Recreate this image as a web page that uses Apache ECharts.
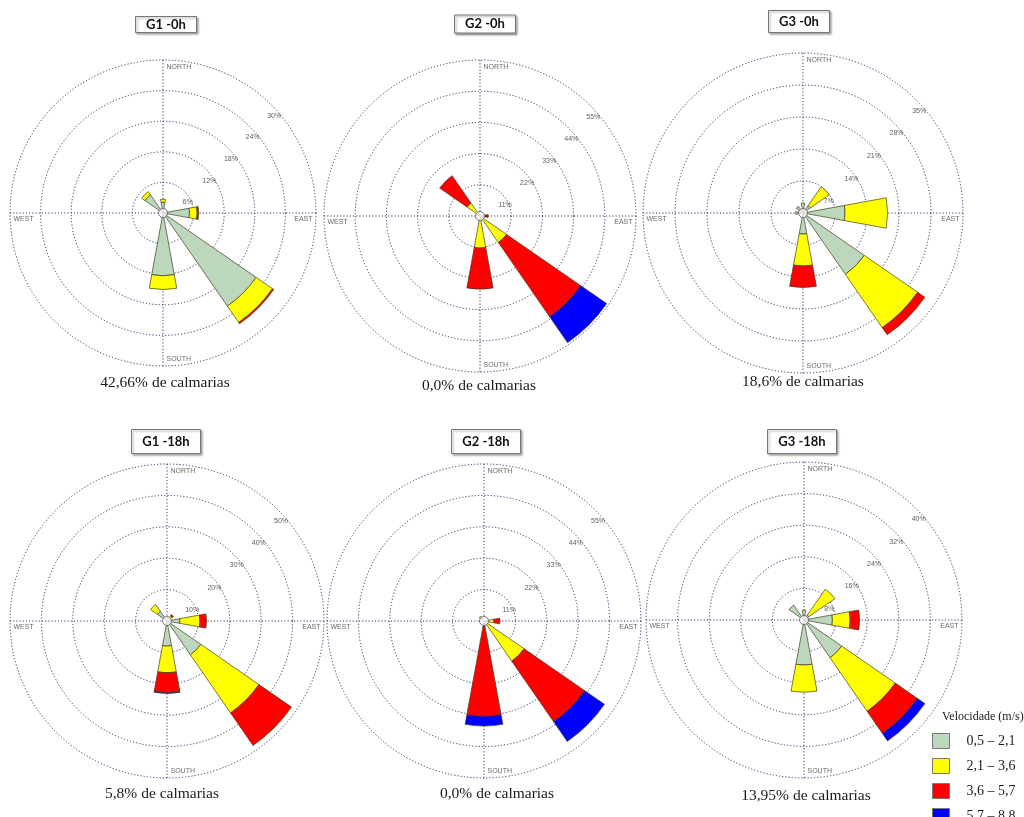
<!DOCTYPE html>
<html><head><meta charset="utf-8">
<script src="https://cdn.jsdelivr.net/npm/echarts@6/dist/echarts.min.js"></script>
<style>html,body{margin:0;padding:0;background:#fff}#c{width:1024px;height:817px}</style>
</head><body><div id="c"></div>
<script>
// ---------- DATA ----------
const directions = ['N', 'NE', 'E', 'SE', 'S', 'SW', 'W', 'NW'];
const quadrants = ['NE', 'SE', 'SW', 'NW'];
const speedClasses = ['0,5 – 2,1', '2,1 – 3,6', '3,6 – 5,7', '5,7 – 8,8'];
const legendTitle = 'Velocidade (m/s)';
const panelTitles = ['G1 -0h', 'G2 -0h', 'G3 -0h', 'G1 -18h', 'G2 -18h', 'G3 -18h'];
const calmCaptions = ['42,66% de calmarias', '0,0% de calmarias', '18,6% de calmarias',
                      '5,8% de calmarias', '0,0% de calmarias', '13,95% de calmarias'];
const compassNames = ['NORTH', 'EAST', 'SOUTH', 'WEST'];
const compassDirs = ['N', 'E', 'S', 'W'];
const ringTicks = [
  [6, 12, 18, 24, 30],
  [11, 22, 33, 44, 55],
  [7, 14, 21, 28, 35],
  [10, 20, 30, 40, 50],
  [11, 22, 33, 44, 55],
  [8, 16, 24, 32, 40]
];

// frequencies (%) per direction N, NE, E, SE, S, SW, W, NW
const g1_0h_c1 = [2.1, 0, 5.2, 22.2, 12.3, 0, 0, 4.3];
const g1_0h_c2 = [0.6, 0, 1.5, 3.9, 2.7, 0, 0, 0.8];
const g1_0h_c3 = [0, 0, 0.3, 0.3, 0, 0, 0, 0];
const g1_0h_c4 = [0, 0, 0, 0, 0, 0, 0, 0];

const g2_0h_c1 = [0, 0, 0, 0, 0, 0, 0, 0];
const g2_0h_c2 = [0, 0, 2.0, 11.4, 11.3, 0, 0, 5.6];
const g2_0h_c3 = [0, 0, 0.9, 31.8, 14.5, 0, 0, 11.7];
const g2_0h_c4 = [0, 0, 0, 11.1, 0, 0, 0, 0];

const g3_0h_c1 = [2.2, 2.0, 9.2, 16.3, 4.6, 0, 1.6, 1.8];
const g3_0h_c2 = [0, 5.0, 9.3, 14.2, 7.0, 0, 0, 0];
const g3_0h_c3 = [0, 0, 0, 1.9, 4.7, 0, 0, 0];
const g3_0h_c4 = [0, 0, 0, 0, 0, 0, 0, 0];

const g1_18h_c1 = [0, 1.0, 4.1, 13.1, 8.0, 0, 0, 3.7];
const g1_18h_c2 = [0, 1.0, 6.4, 22.5, 8.5, 0, 0, 2.7];
const g1_18h_c3 = [0, 0.5, 2.1, 12.6, 6.3, 0, 0, 0];
const g1_18h_c4 = [0, 0, 0, 0, 0.3, 0, 0, 0];

const g2_18h_c1 = [0, 0, 0, 0, 0, 0, 0, 2.0];
const g2_18h_c2 = [0, 0, 3.5, 17.1, 0, 0, 0, 0];
const g2_18h_c3 = [0, 0, 2.1, 25.8, 33.4, 0, 0, 0];
const g2_18h_c4 = [0, 0, 0, 8.4, 3.4, 0, 0, 0];

const g3_18h_c1 = [2.5, 1.5, 7.2, 11.6, 11.4, 0, 0, 4.6];
const g3_18h_c2 = [0, 8.0, 4.5, 16.5, 6.9, 0, 0, 0];
const g3_18h_c3 = [0, 0, 2.4, 6.8, 0, 0, 0, 0];
const g3_18h_c4 = [0, 0, 0, 2.3, 0, 0, 0, 0];

const panels = [
  [g1_0h_c1, g1_0h_c2, g1_0h_c3, g1_0h_c4],
  [g2_0h_c1, g2_0h_c2, g2_0h_c3, g2_0h_c4],
  [g3_0h_c1, g3_0h_c2, g3_0h_c3, g3_0h_c4],
  [g1_18h_c1, g1_18h_c2, g1_18h_c3, g1_18h_c4],
  [g2_18h_c1, g2_18h_c2, g2_18h_c3, g2_18h_c4],
  [g3_18h_c1, g3_18h_c2, g3_18h_c3, g3_18h_c4]
];

// ---------- LAYOUT & STYLE ----------
const layout = [
  {cx: 163, cy: 213, r: 153, boxX: 166, boxTop: 16, padV: 1, capX: 165, capTop: 375},
  {cx: 480, cy: 216, r: 156, boxX: 485, boxTop: 15, padV: 1.5, capX: 479, capTop: 378},
  {cx: 803, cy: 213, r: 160, boxX: 799, boxTop: 10, padV: 4, capX: 803, capTop: 374},
  {cx: 167, cy: 621, r: 157, boxX: 166, boxTop: 429, padV: 5, capX: 162, capTop: 786},
  {cx: 484, cy: 621, r: 157, boxX: 486, boxTop: 429, padV: 5, capX: 497, capTop: 786},
  {cx: 804, cy: 620, r: 158, boxX: 802, boxTop: 429, padV: 5, capX: 806, capTop: 788}
];
const classColors = ['#bcd7bb', '#ffff00', '#ff0000', '#0000ff'];
const gridColor = '#34346a';
const dotted = [1.2, 2];
const padH = 11;
const N = layout.length;

const chart = echarts.init(document.getElementById('c'), null, {renderer: 'canvas'});

const polar = [], angleAxis = [], radiusAxis = [], series = [], title = [];

// main polars (0..N-1): bars + rings ; overlay polars (N..2N-1): N/E/S/W cross lines
layout.forEach((L, i) => {
  const ticks = ringTicks[i];
  const maxV = ticks[ticks.length - 1];
  const step = ticks[0];
  polar[i] = {center: [L.cx, L.cy], radius: L.r};
  polar[N + i] = {center: [L.cx, L.cy], radius: L.r};
  angleAxis[i] = {
    polarIndex: i, type: 'category', data: directions, boundaryGap: true,
    startAngle: 90 + 180 / directions.length, clockwise: true,
    axisLine: {show: false}, axisTick: {show: false}, axisLabel: {show: false},
    splitLine: {show: false}
  };
  radiusAxis[i] = {
    polarIndex: i, type: 'value', min: 0, max: maxV, interval: step,
    axisLine: {show: false}, axisTick: {show: false}, axisLabel: {show: false},
    splitLine: {show: true, lineStyle: {color: gridColor, type: dotted, width: 1}}
  };
  angleAxis[N + i] = {
    polarIndex: N + i, type: 'category', data: quadrants, boundaryGap: true,
    startAngle: 90, clockwise: true,
    axisLine: {show: false}, axisTick: {show: false}, axisLabel: {show: false},
    splitLine: {show: true, lineStyle: {color: gridColor, type: dotted, width: 1}}
  };
  radiusAxis[N + i] = {
    polarIndex: N + i, type: 'value', min: 0, max: maxV,
    axisLine: {show: false}, axisTick: {show: false}, axisLabel: {show: false},
    splitLine: {show: false}
  };
  panels[i].forEach((vals, k) => {
    series.push({
      type: 'bar', coordinateSystem: 'polar', polarIndex: i, stack: 'rose' + i,
      name: speedClasses[k], barWidth: '46%',
      data: vals.map(v => (v > 0 ? v : null)),
      itemStyle: {color: classColors[k], borderColor: '#3e3e22', borderWidth: 0.7},
      z: 3
    });
  });
  // percentage labels along the NE diagonal
  series.push({
    type: 'scatter', coordinateSystem: 'polar', polarIndex: i, silent: true,
    symbolSize: 1, itemStyle: {color: 'rgba(0,0,0,0)'},
    data: ticks.map(t => [t, 'NE']),
    label: {show: true, position: 'inside', offset: [3, 11],
      formatter: p => p.value[0] + '%', fontFamily: 'Liberation Sans', fontSize: 7, color: '#333'},
    z: 5
  });
  // compass labels
  const cLabel = [
    {position: 'right', distance: 3, offset: [0, 7]},
    {position: 'left', distance: 3, offset: [0, 6]},
    {position: 'right', distance: 3, offset: [0, -7]},
    {position: 'right', distance: 3, offset: [0, 6]}
  ];
  series.push({
    type: 'scatter', coordinateSystem: 'polar', polarIndex: i, silent: true,
    symbolSize: 1, itemStyle: {color: 'rgba(0,0,0,0)'},
    label: {show: true, fontFamily: 'Liberation Sans', fontSize: 7, color: '#444',
      formatter: p => p.name},
    data: compassDirs.map((d, j) => ({name: compassNames[j], value: [maxV, d], label: cLabel[j]})),
    z: 5
  });
  // centre hole
  series.push({
    type: 'scatter', coordinateSystem: 'polar', polarIndex: i, silent: true,
    symbolSize: 9, itemStyle: {color: '#fff', borderColor: '#555', borderWidth: 1},
    data: [[0, 'N']], z: 10
  });
  // title box
  title.push({
    text: panelTitles[i], left: L.boxX - padH, top: L.boxTop, textAlign: 'center',
    padding: [L.padV, padH], borderColor: '#777', borderWidth: 1, backgroundColor: '#fff',
    shadowColor: 'rgba(0,0,0,0.35)', shadowBlur: 2, shadowOffsetX: 1.5, shadowOffsetY: 1.5,
    textStyle: {fontFamily: 'Lato', fontWeight: 'bold', fontSize: 13, lineHeight: 15, color: '#111'}
  });
  // calm caption
  title.push({
    text: calmCaptions[i], left: L.capX, top: L.capTop, textAlign: 'center', padding: 0,
    textStyle: {fontFamily: 'Liberation Serif', fontWeight: 'normal', fontSize: 15.5, color: '#1a1a1a'}
  });
});

title.push({
  text: legendTitle, left: 942, top: 711, padding: 0,
  textStyle: {fontFamily: 'Liberation Serif', fontWeight: 'normal', fontSize: 12, color: '#1a1a1a'}
});

chart.setOption({
  animation: false,
  backgroundColor: '#fff',
  title: title,
  polar: polar,
  angleAxis: angleAxis,
  radiusAxis: radiusAxis,
  legend: {
    orient: 'vertical', left: 932, top: 733, height: 140, padding: 0,
    itemWidth: 17, itemHeight: 15, itemGap: 9, icon: 'rect', selectedMode: false,
    data: speedClasses,
    itemStyle: {borderColor: '#777', borderWidth: 1},
    textStyle: {fontFamily: 'Liberation Serif', fontSize: 14, color: '#1a1a1a', padding: [0, 0, 0, 12]}
  },
  series: series
});
</script>
</body></html>
